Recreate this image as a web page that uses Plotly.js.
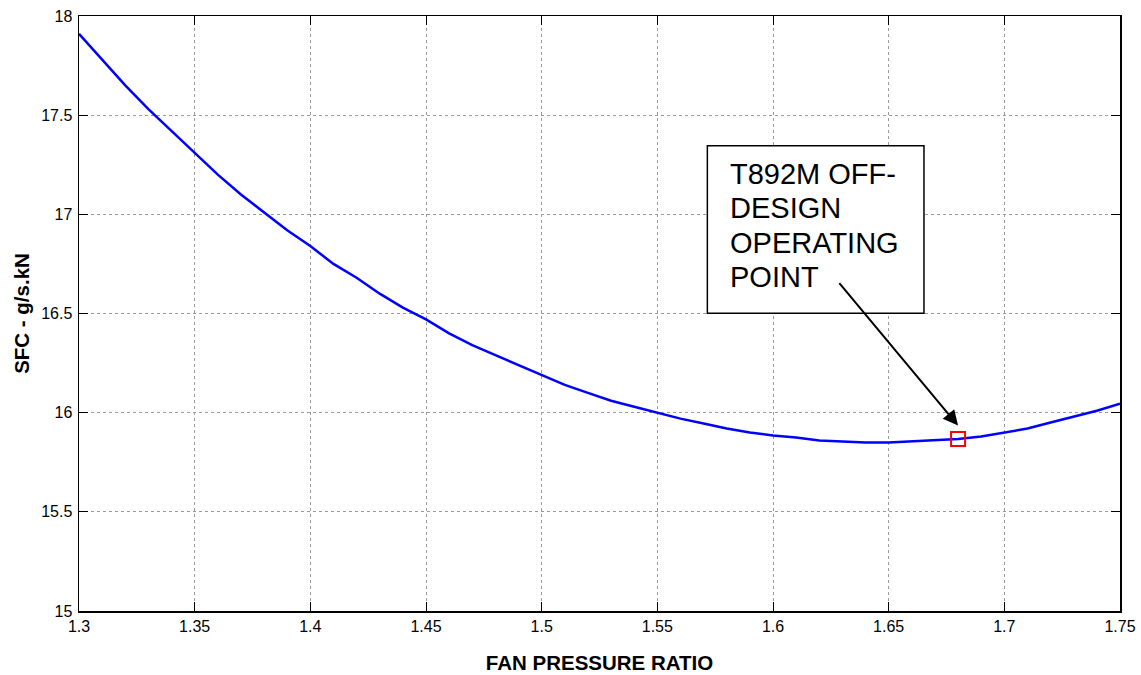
<!DOCTYPE html>
<html>
<head>
<meta charset="utf-8">
<script src="https://cdn.plot.ly/plotly-3.0.1.min.js"></script>
<style>
  html, body { margin: 0; padding: 0; background: #fff; }
  #chart { width: 1141px; height: 675px; }
</style>
</head>
<body>
<div id="chart"></div>
<script>
// Fan pressure ratio (x) and specific fuel consumption (y)
const fanPressureRatio = [1.30, 1.31, 1.32, 1.33, 1.34, 1.35, 1.36, 1.37, 1.38, 1.39,
                          1.40, 1.41, 1.42, 1.43, 1.44, 1.45, 1.46, 1.47, 1.48, 1.49,
                          1.50, 1.51, 1.52, 1.53, 1.54, 1.55, 1.56, 1.57, 1.58, 1.59,
                          1.60, 1.61, 1.62, 1.63, 1.64, 1.65, 1.66, 1.67, 1.68, 1.69,
                          1.70, 1.71, 1.72, 1.73, 1.74, 1.75];
const sfcValues = [17.91, 17.78, 17.65, 17.53, 17.42, 17.31, 17.20, 17.10, 17.01, 16.92,
                   16.84, 16.75, 16.68, 16.60, 16.53, 16.47, 16.40, 16.34, 16.29, 16.24,
                   16.19, 16.14, 16.10, 16.06, 16.03, 16.00, 15.97, 15.945, 15.92, 15.90,
                   15.885, 15.875, 15.86, 15.855, 15.85, 15.85, 15.855, 15.86, 15.867, 15.88,
                   15.90, 15.92, 15.95, 15.98, 16.01, 16.045];

// Off-design operating point
const opPointX = [1.68];
const opPointY = [15.867];

// Tick labels
const xTickVals = [1.3, 1.35, 1.4, 1.45, 1.5, 1.55, 1.6, 1.65, 1.7, 1.75];
const xTickText = ['1.3', '1.35', '1.4', '1.45', '1.5', '1.55', '1.6', '1.65', '1.7', '1.75'];
const yTickVals = [15, 15.5, 16, 16.5, 17, 17.5, 18];
const yTickText = ['15', '15.5', '16', '16.5', '17', '17.5', '18'];

// Annotation text
const calloutLines = ['T892M OFF-', 'DESIGN', 'OPERATING', 'POINT'];
const xTitle = 'FAN PRESSURE RATIO';
const yTitle = 'SFC - g/s.kN';

const FONT = 'Arial, "Liberation Sans", Helvetica, sans-serif';

const traces = [
  {
    x: fanPressureRatio, y: sfcValues, type: 'scatter', mode: 'lines',
    line: { color: '#0000ff', width: 2.5 }, hoverinfo: 'skip', showlegend: false
  },
  {
    x: opPointX, y: opPointY, type: 'scatter', mode: 'markers',
    marker: { symbol: 'square-open', size: 14, color: '#ff0000', line: { width: 2, color: '#ff0000' } },
    hoverinfo: 'skip', showlegend: false
  }
];

const axisCommon = {
  showline: true, linecolor: '#000', linewidth: 1.5, mirror: 'ticks',
  ticks: 'inside', ticklen: 9, tickcolor: '#000', tickwidth: 1,
  showgrid: true, gridcolor: '#9a9a9a', gridwidth: 1, griddash: 'dot',
  zeroline: false, tickfont: { family: FONT, size: 16, color: '#000' }
};

const lineCenters = [0.7339, 0.6765, 0.6188, 0.5613];
const annotations = calloutLines.map((t, i) => ({
  xref: 'paper', yref: 'paper', x: 0.6234, y: lineCenters[i],
  xanchor: 'left', yanchor: 'middle', text: t, showarrow: false,
  font: { family: FONT, size: 29, color: '#000' }
}));
annotations.push({
  xref: 'x', yref: 'y', x: opPointX[0], y: 15.935, text: '',
  showarrow: true, ax: -120, ay: -144, axref: 'pixel', ayref: 'pixel',
  arrowhead: 2, arrowsize: 1.5, arrowwidth: 2, arrowcolor: '#000', standoff: 0
});

const layout = {
  width: 1141, height: 675,
  margin: { l: 79, r: 21, t: 16, b: 64 },
  paper_bgcolor: '#fff', plot_bgcolor: '#fff',
  font: { family: FONT, color: '#000' },
  xaxis: Object.assign({}, axisCommon, {
    range: [1.3, 1.75], tickvals: xTickVals, ticktext: xTickText,
    title: { text: '<b>' + xTitle + '</b>', font: { family: FONT, size: 20.5, color: '#000' }, standoff: 22 },
    automargin: false
  }),
  yaxis: Object.assign({}, axisCommon, {
    range: [15, 18], tickvals: yTickVals, ticktext: yTickText,
    ticklabelstandoff: 2,
    title: { text: '<b>' + yTitle + '</b>', font: { family: FONT, size: 20.5, color: '#000' }, standoff: 6 },
    automargin: false
  }),
  shapes: [{
    type: 'rect', xref: 'paper', yref: 'paper', layer: 'above',
    x0: 0.6036, x1: 0.8117, y0: 0.5003, y1: 0.782,
    line: { color: '#000', width: 1.5 }, fillcolor: '#fff'
  }],
  annotations: annotations
};

Plotly.newPlot('chart', traces, layout, { displayModeBar: false, staticPlot: true });
</script>
</body>
</html>
